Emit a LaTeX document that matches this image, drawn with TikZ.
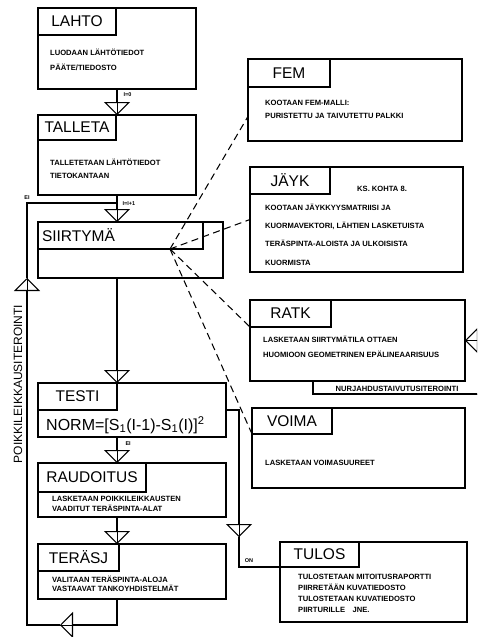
\documentclass[tikz,border=0pt]{standalone}
\usepackage{fontspec}
\setmainfont{Liberation Sans}
\usetikzlibrary{arrows.meta,calc}
\tikzset{
  wire/.style  = {line width=1.05pt},
  block/.style = {draw, wire, anchor=north west, inner sep=0pt, outer sep=0pt},
  head/.style  = {block, font=\fontsize{15.5}{15.5}\selectfont,
                  align=center, minimum height=27pt},
  note/.style  = {anchor=base west, inner sep=0pt, align=left,
                  font=\fontsize{7.6}{#1}\selectfont\bfseries},
  note/.default = 12,
  tag/.style   = {inner sep=0pt, font=\fontsize{5.5}{6}\selectfont\bfseries},
  flow/.style  = {wire, preaction={draw, -},
                  -{Triangle[open, length=13pt, width=26pt, line width=1.05pt]}},
  link/.style  = {wire, dash pattern=on 7pt off 4.5pt}
}

\begin{document}
\begin{tikzpicture}[x=1pt, y=-1pt]
  \useasboundingbox (0,0) rectangle (477,637);
  \begin{scope}
  \clip (0,0) rectangle (477,637);

  \node [block, minimum width=158pt, minimum height=81pt] (lahto) at (38,8) {};
  \node [head, minimum width=78pt] (lahtoh) at (lahto.north west) {LAHTO};
  \node [note=15] (lahtot) at (50,70) {LUODAAN LÄHTÖTIEDOT\\PÄÄTE/TIEDOSTO};

  \node [block, minimum width=158pt, minimum height=80pt] (talleta) at (38,115) {};
  \node [head, minimum width=78pt, minimum height=25pt] (talletah) at (talleta.north west) {TALLETA};
  \node [note=13] (talletat) at (50,178) {TALLETETAAN LÄHTÖTIEDOT\\TIETOKANTAAN};

  \node [block, minimum width=185pt, minimum height=56pt] (siirtyma) at (38,222) {};
  \node [head, text width=157pt, inner xsep=4pt, align=left] (siirtymah) at (siirtyma.north west) {SIIRTYMÄ};

  \node [block, minimum width=188pt, minimum height=54pt] (testi) at (38,383) {};
  \node [head, minimum width=79pt] (testih) at (testi.north west) {TESTI};
  \node [anchor=west, inner sep=0pt, font=\fontsize{16}{16}\selectfont] (norm) at (46,425)
    {NORM=[S\textsubscript{1}(I-1)-S\textsubscript{1}(I)]\textsuperscript{2}};

  \node [block, minimum width=188pt, minimum height=54pt] (raudoitus) at (38,463) {};
  \node [head, minimum width=108pt, minimum height=29pt] (raudoitush) at (raudoitus.north west) {RAUDOITUS};
  \node [note=10] (raudoitust) at (52,511) {LASKETAAN POIKKILEIKKAUSTEN\\VAADITUT TERÄSPINTA-ALAT};

  \node [block, minimum width=188pt, minimum height=55pt] (terasj) at (38,544) {};
  \node [head, minimum width=81pt] (terasjh) at (terasj.north west) {TERÄSJ};
  \node [note=9.5] (terasjt) at (52,591.5) {VALITAAN TERÄSPINTA-ALOJA\\VASTAAVAT TANKOYHDISTELMÄT};

  \node [block, minimum width=214pt, minimum height=82pt] (fem) at (248,59) {};
  \node [head, minimum width=82pt, minimum height=28pt] (femh) at (fem.north west) {FEM};
  \node [note=13] (femt) at (265,118) {KOOTAAN FEM-MALLI:\\PURISTETTU JA TAIVUTETTU PALKKI};

  \node [block, minimum width=213pt, minimum height=105pt] (jayk) at (250,167) {};
  \node [head, minimum width=80pt] (jaykh) at (jayk.north west) {JÄYK};
  \node [note] (ks) at (357,191) {KS. KOHTA 8.};
  \node [note=18.3] (jaykt) at (265,265) {KOOTAAN JÄYKKYYSMATRIISI JA\\KUORMAVEKTORI, LÄHTIEN LASKETUISTA\\TERÄSPINTA-ALOISTA JA ULKOISISTA\\KUORMISTA};

  \node [block, minimum width=215pt, minimum height=81pt] (ratk) at (250,300) {};
  \node [head, minimum width=81pt] (ratkh) at (ratk.north west) {RATK};
  \node [note=15] (ratkt) at (263,357) {LASKETAAN SIIRTYMÄTILA OTTAEN\\HUOMIOON GEOMETRINEN EPÄLINEAARISUUS};

  \node [block, minimum width=213pt, minimum height=80pt] (voima) at (252,408) {};
  \node [head, minimum width=80pt, minimum height=26pt] (voimah) at (voima.north west) {VOIMA};
  \node [note] (voimat) at (265,465) {LASKETAAN VOIMASUUREET};

  \node [block, minimum width=187pt, minimum height=80pt] (tulos) at (280,542) {};
  \node [head, minimum width=79pt, minimum height=25pt] (tulosh) at (tulos.north west) {TULOS};
  \node [note=11] (tulost) at (298,612) {TULOSTETAAN MITOITUSRAPORTTI\\PIIRRETÄÄN KUVATIEDOSTO\\TULOSTETAAN KUVATIEDOSTO\\PIIRTURILLE\quad JNE.};

  \coordinate (spine) at (117,0);
  \coordinate (hub)   at (170,249);
  \coordinate (lb)    at (60,625);
  \coordinate (lu)    at (27,278);
  \coordinate (lj)    at (117,203);
  \coordinate (ontip) at (239,537);
  \coordinate (rdown) at (313,394);
  \coordinate (rfar)  at (492,394);

  \draw [flow] (lahto.south -| spine) -- (talleta.north -| spine)
    node [tag, pos=0.23, right=6pt] (i0) {I=0};
  \draw [flow] (talleta.south -| spine) -- (siirtyma.north -| spine)
    node [tag, pos=0.33, right=5pt] (i1) {I=I+1};
  \draw [flow] (siirtyma.south -| spine) -- (testi.north -| spine);
  \draw [flow] (testi.south -| spine) -- (raudoitus.north -| spine)
    node [tag, pos=0.27, right=8pt] (ei2) {EI};
  \draw [flow] (raudoitus.south -| spine) -- (terasj.north -| spine);

  \draw [flow] (terasj.south -| spine) |- (lb);
  \draw [flow] (lb) -| (lu);
  \draw [wire] (lu) |- (lj) node [tag, pos=0.5, above=3pt] (ei1) {EI};
  \node [rotate=90, inner sep=0pt, font=\fontsize{12}{12}\selectfont] (poik) at (18,384) {POIKKILEIKKAUSITEROINTI};

  \draw [flow] (testi.east |- testih.south) -| (ontip);
  \draw [wire] (ontip) |- (tulosh.south west);
  \node [tag] (on) at (249,561) {ON};

  \draw [flow] (ratk.south -| rdown) |- (rfar) |- (ratk.east);
  \node [note, anchor=base] (nurj) at (397,391) {NURJAHDUSTAIVUTUSITEROINTI};

  \draw [link] (hub) -- ($(fem.north west)!0.7!(fem.south west)$);
  \draw [link] (hub) -- (jayk.west);
  \draw [link] (hub) -- (ratkh.south west);
  \draw [link] (hub) -- (voimah.south west);
  \end{scope}
\end{tikzpicture}
\end{document}
